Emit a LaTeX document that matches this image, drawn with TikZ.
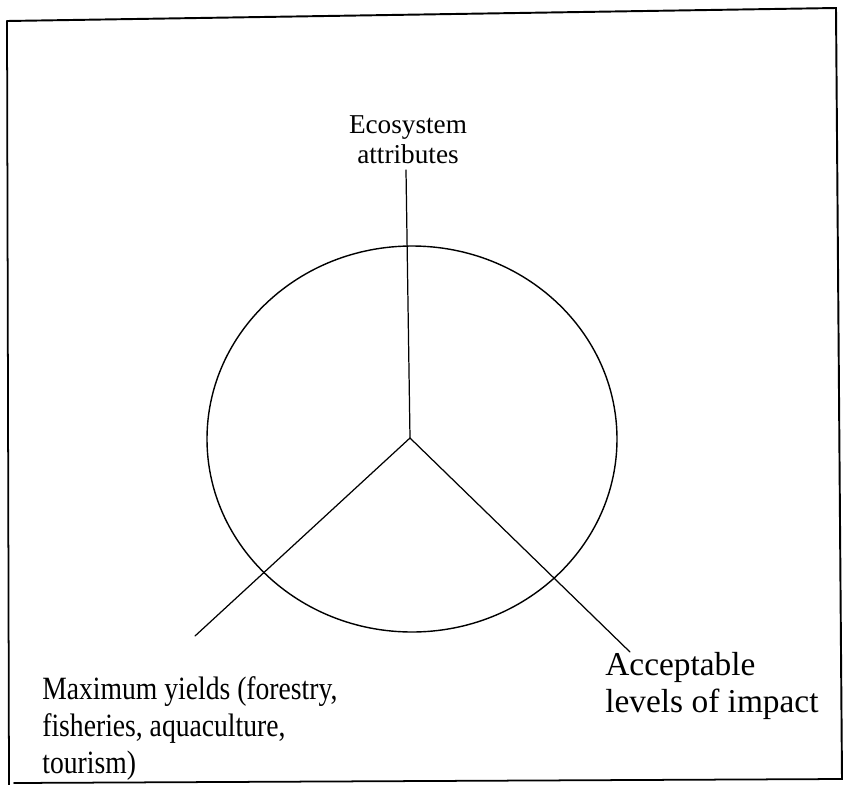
\documentclass[tikz,border=0pt]{standalone}
\usepackage{fontspec}
\setmainfont{Liberation Serif}
\newfontfamily\narrowserif[FakeStretch=0.85]{Liberation Serif}
\usepackage{tikz}
\usetikzlibrary{positioning,calc}

\begin{document}
\begin{tikzpicture}[x=0.02cm, y=-0.02cm, line cap=round]
  % 1 unit = 1 px of the page
  \tikzset{
    spoke/.style={draw, line width=0.7pt},
    toplabel/.style={align=center, font=\fontsize{15.5}{17}\selectfont},
    footlabel/.style={align=left, inner sep=0pt}
  }
  \useasboundingbox (0,0) rectangle (843,785);

  % Frame (scan is a little tilted)
  \draw[line width=1.1pt] (7,21) -- (836,8) -- (842,779);
  \draw[line width=1pt] (7,21) -- (9,785);
  \draw[line width=1pt] (14,783) -- (843,779);

  % Circle
  \draw[line width=0.8pt] (412,439) ellipse [x radius=205, y radius=193];

  % Centre and free ends of the spokes
  \coordinate (hub) at (410,438);
  \coordinate (upEnd) at (406,170);
  \coordinate (leftEnd) at (195,636);
  \coordinate (rightEnd) at (630,652);

  \draw[spoke] (hub) -- (upEnd);
  \draw[spoke] (hub) -- (leftEnd);
  \draw[spoke] (hub) -- (rightEnd);

  % Labels
  \node[toplabel] (attrib) at (408,140) {Ecosystem\\attributes};
  \node[footlabel, anchor=north west, font=\narrowserif\fontsize{18.5}{21}\selectfont]
    (yields) at (42,676)
    {Maximum yields (forestry,\\fisheries, aquaculture,\\tourism)};
  \node[footlabel, anchor=north west, font=\fontsize{19}{21}\selectfont]
    (impact) at (605,652)
    {Acceptable\\levels of impact};

\end{tikzpicture}
\end{document}
